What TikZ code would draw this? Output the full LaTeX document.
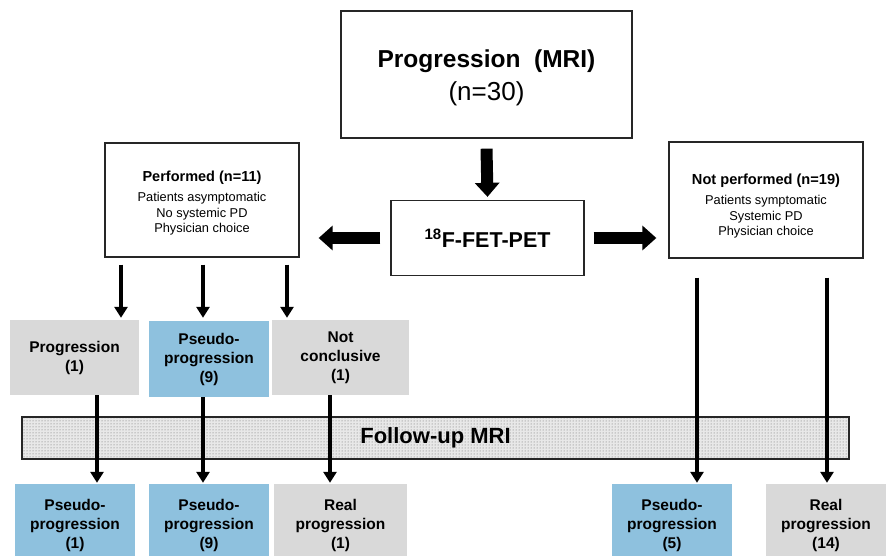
\documentclass[tikz,border=0pt]{standalone}
\usepackage{fontspec}
\setmainfont{Liberation Sans}
\usetikzlibrary{arrows.meta,patterns,calc}
\definecolor{cblue}{RGB}{142,193,222}
\definecolor{cgray}{RGB}{217,217,217}
\begin{document}
\begin{tikzpicture}[x=1pt,y=-1pt,
  box/.style={draw=black!85, line width=1.3pt, fill=white, align=center, inner sep=0pt},
  smalltext/.style={align=center, inner sep=0pt, font=\fontsize{12.8}{15.5}\selectfont},
  rowtext/.style={align=center, inner sep=0pt, font=\fontsize{15.5}{19}\selectfont\bfseries},
  bluebox/.style={rowtext, fill=cblue},
  graybox/.style={rowtext, fill=cgray},
  tarrow/.style={line width=3.8pt, -{Triangle[length=11pt,width=13pt]}},
  barrow/.style={line width=12pt, -{Triangle[length=14pt,width=24pt]}}]
\useasboundingbox (0,0) rectangle (886,556);

% top box
\node[box, minimum width=291pt, minimum height=127pt] (top) at (486.5,74.5) {};
\node[align=center, inner sep=0pt] (toptext) at (486.5,78)
  {{\fontsize{24.5}{33}\selectfont\bfseries Progression\ \ (MRI)}\\[8pt]
   {\fontsize{26}{33}\selectfont (n=30)}};
% FET box
\node[box, minimum width=193pt, minimum height=75pt] (fet) at (487.5,238)
  {\fontsize{21.5}{25}\selectfont\bfseries\textsuperscript{18}F-FET-PET};
% performed
\node[box, minimum width=194pt, minimum height=114pt] (perf) at (202,200) {};
\node[smalltext] (perftext) at (202,203)
  {{\fontsize{14.5}{15.5}\selectfont\bfseries Performed (n=11)}\\[5pt]
   Patients asymptomatic\\ No systemic PD\\ Physician choice};
% not performed
\node[box, minimum width=194pt, minimum height=116pt] (notperf) at (766,200) {};
\node[smalltext] (notperftext) at (766,206)
  {{\fontsize{14.6}{15.5}\selectfont\bfseries Not performed (n=19)}\\[5pt]
   Patients symptomatic\\ Systemic PD\\ Physician choice};

% row 2
\node[graybox, minimum width=129pt, minimum height=75pt] (prog1) at (74.5,357.5) {Progression\\(1)};
\node[bluebox, minimum width=120pt, minimum height=76pt] (pseudo9a) at (209,359) {Pseudo-\\progression\\(9)};
\node[graybox, minimum width=137pt, minimum height=75pt] (notconc) at (340.5,357.5) {Not\\conclusive\\(1)};

% follow-up band
\node[draw=black!85, line width=1.2pt, preaction={fill=gray!18}, pattern=dots, pattern color=black!60,
  minimum width=827pt, minimum height=42pt, inner sep=0pt,
  font=\fontsize{22}{24}\selectfont\bfseries] (fu) at (435.5,438) {Follow-up MRI};

% bottom row (boxes run past the lower edge)
\node[bluebox, minimum width=120pt, minimum height=82pt] (pseudo1) at (75,525) {Pseudo-\\progression\\(1)};
\node[bluebox, minimum width=120pt, minimum height=82pt] (pseudo9b) at (209,525) {Pseudo-\\progression\\(9)};
\node[graybox, minimum width=133pt, minimum height=82pt] (real1) at (340.5,525) {Real\\progression\\(1)};
\node[bluebox, minimum width=120pt, minimum height=82pt] (pseudo5) at (672,525) {Pseudo-\\progression\\(5)};
\node[graybox, minimum width=120pt, minimum height=82pt] (real14) at (826,525) {Real\\progression\\(14)};

% block arrows
\draw[barrow] ([yshift=-10pt]top.south) -- ([yshift=3pt]fet.north);
\draw[barrow] ([xshift=-10pt]fet.west) -- ($(perf.east |- fet.west)+(19,0)$);
\draw[barrow] ([xshift=9pt]fet.east) -- ($(notperf.west |- fet.east)+(-12,0)$);

% thin arrows
\draw[tarrow] ($(perf.south)+(-81,7)$) -- ($(prog1.north)+(46.5,-2)$);
\draw[tarrow] ($(perf.south)+(1,7)$) -- ($(pseudo9a.north)+(-6,-3)$);
\draw[tarrow] ($(perf.south)+(85,7)$) -- ($(notconc.north)+(-53.5,-2)$);
\draw[tarrow] ($(prog1.south)+(22.5,0)$) -- ($(pseudo1.north)+(22,-1)$);
\draw[tarrow] ($(pseudo9a.south)+(-6,0)$) -- ($(pseudo9b.north)+(-6,-1)$);
\draw[tarrow] ($(notconc.south)+(-10.5,0)$) -- ($(real1.north)+(-10.5,-1)$);
\draw[tarrow] ($(notperf.south)+(-69,19)$) -- ($(pseudo5.north)+(25,-1)$);
\draw[tarrow] ($(notperf.south)+(61,19)$) -- ($(real14.north)+(1,-1)$);
\end{tikzpicture}
\end{document}
